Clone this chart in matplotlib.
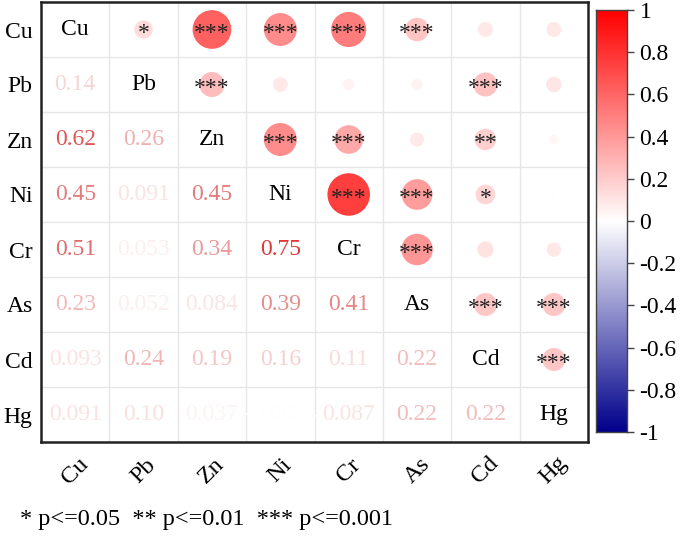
import numpy as np
import matplotlib
matplotlib.use("Agg")
import matplotlib.pyplot as plt
from matplotlib.colors import LinearSegmentedColormap, Normalize

plt.rcParams['font.family'] = ['Liberation Serif', 'DejaVu Serif']

labels = ["Cu", "Pb", "Zn", "Ni", "Cr", "As", "Cd", "Hg"]
lower = [
    [],
    [0.14],
    [0.62, 0.26],
    [0.45, 0.091, 0.45],
    [0.51, 0.053, 0.34, 0.75],
    [0.23, 0.052, 0.084, 0.39, 0.41],
    [0.093, 0.24, 0.19, 0.16, 0.11, 0.22],
    [0.091, 0.10, 0.037, -0.0054, 0.087, 0.22, 0.22],
]
# significance stars for upper triangle, row i, columns i+1..7
stars = [
    ["*", "***", "***", "***", "***", "", ""],
    ["***", "", "", "", "***", ""],
    ["***", "***", "", "**", ""],
    ["***", "***", "*", ""],
    ["***", "", ""],
    ["***", "***"],
    ["***"],
]
cbar_ticks = [-1, -0.8, -0.6, -0.4, -0.2, 0, 0.2, 0.4, 0.6, 0.8, 1]
legend_text = "* p<=0.05  ** p<=0.01  *** p<=0.001"

n = len(labels)
R = np.eye(n)
for i, row in enumerate(lower):
    for j, v in enumerate(row):
        R[i, j] = v
        R[j, i] = v

cmap = LinearSegmentedColormap.from_list("bwr2", ["#00008B", "#FFFFFF", "#FF0000"])
norm = Normalize(-1, 1)


def text_color(v):
    r, g, b, a = cmap(norm(v))
    f = 1 - 0.12 * min(abs(v) / 0.5, 1)
    return (r * f, g * f, b * f)


W, H = 685, 536
fig = plt.figure(figsize=(W / 100, H / 100), dpi=100)
ax = fig.add_axes([41 / W, (H - 442) / H, 547 / W, 440 / H])
ax.set_xlim(-0.5, n - 0.5)
ax.set_ylim(n - 0.5, -0.5)

# grid
for k in range(1, n):
    ax.axvline(k - 0.5, color="#E6E6E6", lw=1, zorder=0)
    ax.axhline(k - 0.5, color="#E6E6E6", lw=1, zorder=0)

# upper triangle circles
xs, ys, ss, cs = [], [], [], []
for i in range(n):
    for j in range(i + 1, n):
        xs.append(j); ys.append(i)
        ss.append(1250 * abs(R[i, j]))
        cs.append(cmap(norm(R[i, j])))
ax.scatter(xs, ys, s=ss, c=cs, edgecolors="none", zorder=2)

for i in range(n):
    for j in range(i + 1, n):
        st = stars[i][j - i - 1]
        if st:
            ax.text(j, i + 0.08, st, ha="center", va="center", fontsize=17, color="#222222", zorder=3)

# lower triangle numbers
for i in range(n):
    for j in range(i):
        v = R[i, j]
        ax.text(j, i, f"{v:#.2g}", ha="center", va="center", fontsize=17,
                color=text_color(v), zorder=3)

# diagonal labels
for i in range(n):
    ax.text(i, i, labels[i], ha="center", va="center", fontsize=17, color="black", zorder=3)

ax.set_yticks(range(n))
ax.set_yticklabels(labels, fontsize=17)
ax.tick_params(axis="y", length=0, pad=6)
ax.set_xticks([])
for k, lab in enumerate(labels):
    ax.text(k, -0.065, lab, transform=ax.get_xaxis_transform(), rotation=45,
            ha="center", va="center", fontsize=17.5)
for sp in ax.spines.values():
    sp.set_linewidth(1.8)
    sp.set_color("#222222")

# colorbar
cax = fig.add_axes([596 / W, (H - 432) / H, 31 / W, 422 / H])
grad = np.linspace(-1, 1, 256).reshape(-1, 1)
cax.imshow(grad, aspect="auto", cmap=cmap, norm=norm, origin="lower", extent=[0, 1, -1, 1])
cax.set_xticks([])
cax.yaxis.tick_right()
cax.set_yticks(cbar_ticks)
cax.set_yticklabels([f"{t:g}" for t in cbar_ticks], fontsize=17)
cax.tick_params(axis="y", length=5, width=1, pad=4, colors="#444444", labelcolor="black")
for sp in cax.spines.values():
    sp.set_linewidth(1)
    sp.set_color("#444444")

fig.text(20 / W, 1 - 519 / H, legend_text, ha="left", va="center", fontsize=17.5)

fig.savefig("out.png", dpi=100)
